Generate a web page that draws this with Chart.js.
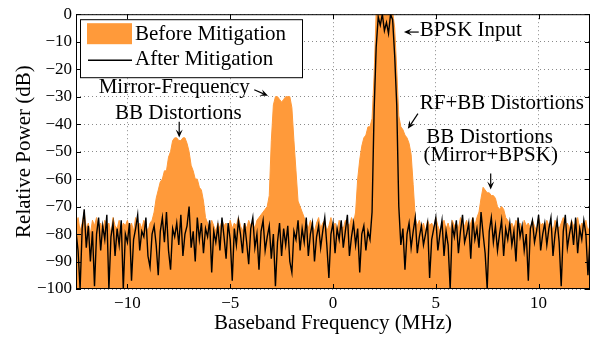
<!DOCTYPE html>
<html>
<head>
<meta charset="utf-8">
<script src="https://cdn.jsdelivr.net/npm/chart.js@4.4.1/dist/chart.umd.min.js"></script>
<style>
  html, body { margin: 0; padding: 0; background: #fff; }
</style>
</head>
<body>
<canvas id="spectrum" width="600" height="337"></canvas>
<script>
// sample grid of the spectrum (MHz)
const freqStart = -12.5;
const freqStep = 0.1;

const freqTicks = [-10, -5, 0, 5, 10];
const powerTicks = [0, -10, -20, -30, -40, -50, -60, -70, -80, -90, -100];

const seriesNames = ['Before Mitigation', 'After Mitigation'];

// relative power (dB), one value per 0.1 MHz from -12.5 to 12.5
const beforeMitigation = [
  -77, -74, -79, -76, -72, -78, -76, -80, -75, -77,
  -74, -78, -76, -79, -75, -77, -76, -80, -74, -77,
  -78, -75, -79, -76, -77, -75, -78, -76, -79, -74,
  -77, -76, -78, -75, -77, -79, -76, -75, -72, -67,
  -64, -61, -60, -57, -57, -52, -50, -46, -45, -45,
  -46, -46, -45, -45, -47, -50, -55, -57, -60, -60,
  -63, -64, -68, -74, -76, -78, -75, -77, -79, -76,
  -78, -75, -77, -76, -79, -75, -78, -76, -77, -74,
  -77, -79, -76, -78, -75, -77, -76, -78, -75, -74,
  -73, -72, -71, -70, -66, -46, -33, -30, -30, -31,
  -32, -31, -30, -30, -30, -34, -46, -57, -68, -70,
  -72, -74, -76, -78, -75, -77, -79, -76, -74, -78,
  -76, -75, -79, -77, -74, -78, -76, -79, -75, -77,
  -78, -75, -76, -77, -74, -76, -72, -60, -53, -48,
  -45, -44, -41, -41, -38, -22, 1, 1, 1, 1,
  1, 1, 1, 1, 1, -5, -20, -37, -41, -42,
  -44, -45, -47, -51, -62, -74, -77, -75, -78, -76,
  -79, -75, -77, -76, -78, -74, -77, -79, -76, -75,
  -78, -76, -79, -75, -77, -76, -78, -74, -76, -77,
  -75, -78, -76, -74, -77, -74, -72, -67, -63, -64,
  -65, -65, -66, -66, -67, -70, -71, -70, -71, -74,
  -75, -77, -76, -78, -75, -77, -76, -79, -75, -77,
  -76, -78, -75, -77, -79, -74, -77, -76, -78, -75,
  -77, -76, -79, -75, -77, -78, -76, -74, -77, -76,
  -78, -75, -77, -76, -74, -78, -76, -77, -75, -79,
  -77
];

const afterMitigation = [
  -79, -86, -100, -78, -71, -85, -77, -90, -79, -99,
  -80, -74, -86, -77, -82, -73, -100, -81, -76, -88,
  -78, -84, -75, -100, -80, -83, -76, -97, -82, -78,
  -73, -86, -79, -81, -74, -88, -92, -80, -77, -84,
  -95, -79, -74, -83, -72, -86, -93, -78, -81, -76,
  -84, -73, -88, -80, -77, -70, -85, -79, -90, -74,
  -82, -76, -87, -78, -81, -75, -94, -79, -83, -77,
  -86, -74, -81, -89, -76, -82, -97, -78, -84, -75,
  -80, -87, -76, -83, -91, -78, -74, -85, -80, -93,
  -79, -75, -86, -81, -77, -89, -80, -99, -83, -76,
  -88, -78, -84, -77, -90, -94, -79, -82, -75, -86,
  -78, -83, -74, -88, -80, -76, -90, -81, -77, -85,
  -79, -74, -84, -96, -80, -76, -87, -78, -82, -75,
  -85, -79, -73, -88, -81, -76, -84, -78, -94, -80,
  -77, -86, -79, -82, -72, -35, -12, -1, -4, 0,
  -6, -3, -7, 0, -2, -15, -33, -70, -84, -78,
  -93, -80, -76, -85, -79, -74, -87, -81, -77, -84,
  -80, -76, -96, -82, -78, -74, -86, -80, -75, -88,
  -79, -84, -100, -77, -81, -75, -87, -79, -73, -83,
  -80, -76, -89, -74, -82, -78, -85, -72, -80, -87,
  -100, -79, -74, -83, -77, -86, -80, -75, -88, -78,
  -82, -76, -84, -79, -90, -74, -81, -77, -86, -80,
  -97, -78, -75, -83, -79, -73, -86, -80, -76, -84,
  -78, -74, -88, -80, -75, -83, -99, -79, -73, -85,
  -80, -76, -84, -74, -87, -78, -82, -75, -80, -95,
  -82
];

// text labels and arrows, in data units (MHz, dB)
const notes = [
  { text: 'Mirror-Frequency', x: -7.72, y: -26.8, align: 'center' },
  { text: 'BB Distortions', x: -7.52, y: -36.2, align: 'center' },
  { text: 'BPSK Input', x: 4.22, y: -5.8, align: 'left' },
  { text: 'RF+BB Distortions', x: 4.22, y: -32.6, align: 'left' },
  { text: 'BB Distortions', x: 7.62, y: -44.9, align: 'center' },
  { text: '(Mirror+BPSK)', x: 7.67, y: -51.4, align: 'center' }
];
const arrows = [
  [-7.48, -39.1, -7.48, -44.9],
  [-3.83, -27.5, -3.16, -29.7],
  [4.17, -6.5, 3.45, -6.5],
  [4.13, -36.2, 3.64, -41.7],
  [7.67, -58, 7.67, -63.8]
];

const orange = '#ff9a3a';
const serif = '"Liberation Serif", "Times New Roman", serif';

const toPoints = vals => vals.map((v, i) => ({ x: freqStart + i * freqStep, y: v }));
const fmt = v => (v < 0 ? '\u2212' + Math.abs(v) : String(v));

function drawArrow(ctx, x1, y1, x2, y2) {
  const ang = Math.atan2(y2 - y1, x2 - x1);
  const len = 8, half = 3.5;
  ctx.beginPath();
  ctx.moveTo(x1, y1);
  ctx.lineTo(x2 - Math.cos(ang) * len * 0.6, y2 - Math.sin(ang) * len * 0.6);
  ctx.stroke();
  ctx.beginPath();
  ctx.moveTo(x2, y2);
  ctx.lineTo(x2 - Math.cos(ang) * len - Math.sin(ang) * half, y2 - Math.sin(ang) * len + Math.cos(ang) * half);
  ctx.lineTo(x2 - Math.cos(ang) * len * 0.6, y2 - Math.sin(ang) * len * 0.6);
  ctx.lineTo(x2 - Math.cos(ang) * len + Math.sin(ang) * half, y2 - Math.sin(ang) * len - Math.cos(ang) * half);
  ctx.closePath();
  ctx.fill();
}

// box, inward ticks, legend and annotations
const frame = {
  id: 'frame',
  afterDraw(chart) {
    const { ctx, chartArea: a, scales: { x, y } } = chart;
    ctx.save();
    ctx.strokeStyle = '#000';
    ctx.fillStyle = '#000';
    ctx.lineWidth = 1;
    ctx.strokeRect(a.left + 0.5, a.top + 0.5, a.right - a.left - 1, a.bottom - a.top - 1);

    ctx.beginPath();
    freqTicks.forEach(v => {
      const px = Math.round(x.getPixelForValue(v)) + 0.5;
      ctx.moveTo(px, a.bottom); ctx.lineTo(px, a.bottom - 5);
      ctx.moveTo(px, a.top); ctx.lineTo(px, a.top + 5);
    });
    powerTicks.forEach(v => {
      const py = Math.round(y.getPixelForValue(v)) + 0.5;
      ctx.moveTo(a.left, py); ctx.lineTo(a.left + 5, py);
      ctx.moveTo(a.right, py); ctx.lineTo(a.right - 5, py);
    });
    ctx.stroke();

    // legend
    const ds = chart.data.datasets;
    const lx = a.left + 4, ly = a.top + 5;
    ctx.fillStyle = '#fff';
    ctx.fillRect(lx, ly, 222, 58);
    ctx.strokeRect(lx + 0.5, ly + 0.5, 222, 58);
    ctx.fillStyle = ds[0].backgroundColor;
    ctx.fillRect(lx + 7, ly + 4, 45, 21);
    ctx.strokeStyle = ds[1].borderColor;
    ctx.lineWidth = ds[1].borderWidth;
    ctx.beginPath();
    ctx.moveTo(lx + 8, ly + 41); ctx.lineTo(lx + 52, ly + 41);
    ctx.stroke();
    ctx.fillStyle = '#000';
    ctx.font = '21px ' + serif;
    ctx.textBaseline = 'middle';
    ctx.textAlign = 'left';
    ctx.fillText(ds[0].label, lx + 55, ly + 15);
    ctx.fillText(ds[1].label, lx + 55, ly + 40);

    notes.forEach(n => {
      ctx.textAlign = n.align;
      ctx.fillText(n.text, x.getPixelForValue(n.x), y.getPixelForValue(n.y));
    });
    ctx.strokeStyle = '#000';
    ctx.lineWidth = 1.2;
    arrows.forEach(([x1, y1, x2, y2]) => {
      drawArrow(ctx, x.getPixelForValue(x1), y.getPixelForValue(y1),
        x.getPixelForValue(x2), y.getPixelForValue(y2));
    });
    ctx.restore();
  }
};

new Chart(document.getElementById('spectrum'), {
  type: 'line',
  data: {
    datasets: [{
      label: seriesNames[0],
      data: toPoints(beforeMitigation),
      borderColor: orange,
      backgroundColor: orange,
      borderWidth: 1,
      fill: 'start',
      pointRadius: 0,
      order: 2
    }, {
      label: seriesNames[1],
      data: toPoints(afterMitigation),
      borderColor: '#000',
      borderWidth: 1.4,
      fill: false,
      pointRadius: 0,
      order: 1
    }]
  },
  options: {
    responsive: false,
    animation: false,
    devicePixelRatio: 1,
    layout: { padding: { left: 0, right: 10, top: 13, bottom: 0 } },
    plugins: { legend: { display: false }, tooltip: { enabled: false } },
    scales: {
      x: {
        type: 'linear',
        min: -12.5,
        max: 12.5,
        afterBuildTicks: s => { s.ticks = freqTicks.map(v => ({ value: v })); },
        afterFit: s => { s.height = 48; },
        grid: { color: '#8a8a8a', drawTicks: false },
        border: { display: false, dash: [1, 3] },
        ticks: { font: { family: serif, size: 17 }, color: '#000', padding: 4, maxRotation: 0, callback: fmt },
        title: { display: true, text: 'Baseband Frequency (MHz)', color: '#000', font: { family: serif, size: 21 }, padding: { bottom: 1 } }
      },
      y: {
        min: -100,
        max: 0,
        afterBuildTicks: s => { s.ticks = powerTicks.map(v => ({ value: v })); },
        afterFit: s => { s.width = 76; },
        grid: { color: '#8a8a8a', drawTicks: false },
        border: { display: false, dash: [1, 3] },
        ticks: { font: { family: serif, size: 17 }, color: '#000', padding: 4, callback: fmt },
        title: { display: true, text: 'Relative Power (dB)', color: '#000', font: { family: serif, size: 21 }, padding: { top: 12 } }
      }
    }
  },
  plugins: [frame]
});
</script>
</body>
</html>
